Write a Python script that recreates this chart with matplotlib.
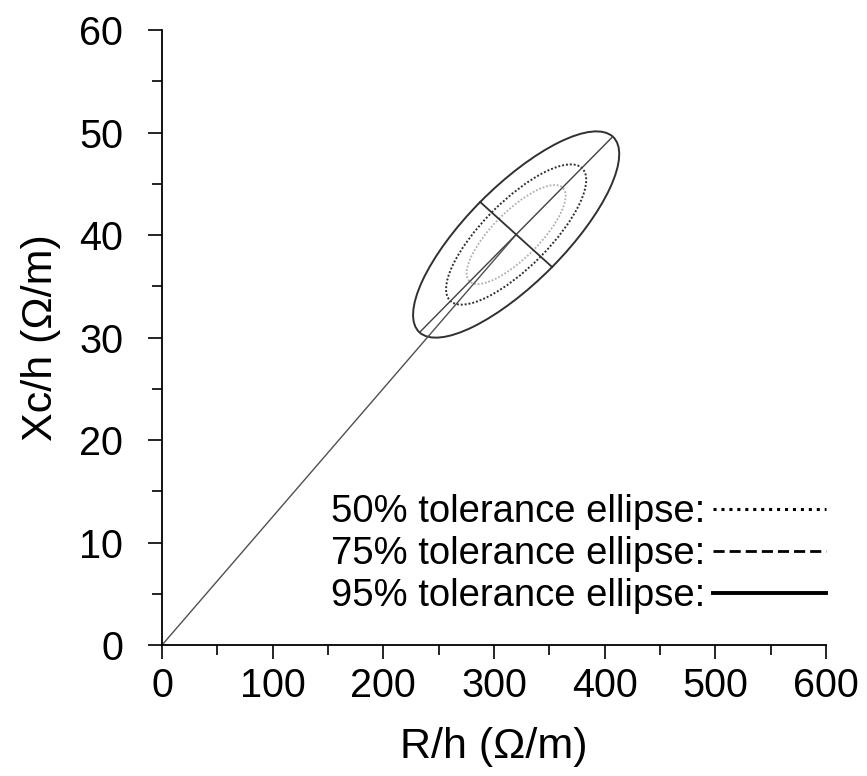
import matplotlib
matplotlib.use("Agg")
import matplotlib.pyplot as plt
from matplotlib.patches import Ellipse
from matplotlib.lines import Line2D
from matplotlib.transforms import Affine2D
import matplotlib.ticker as ticker

plt.rcParams['font.family'] = ['Liberation Sans', 'DejaVu Sans']

# mean vector and 95% semi-axes (conjugate half-diameters) in data units
center = (320.0, 40.05)
major_half = (87.3, 9.55)
minor_half = (32.5, -3.17)

# tolerance levels and their size relative to the 95% ellipse
levels = ['50%', '75%', '95%']
rel_size = [0.48, 0.68, 1.0]
plot_styles = [
    dict(color='#b0b0b0', linestyle=(0, (1, 1)), linewidth=1.3),
    dict(color='#303030', linestyle=(0, (1, 1)), linewidth=1.4),
    dict(color='#303030', linestyle='-', linewidth=1.4),
]
legend_styles = [
    dict(color='black', linestyle=(0, (1, 1.6)), linewidth=2.2),
    dict(color='black', linestyle=(0, (4, 1.8)), linewidth=2.0),
    dict(color='black', linestyle='-', linewidth=2.8),
]

fig = plt.figure(figsize=(8.67, 7.76), dpi=100)
ax = fig.add_axes([0.1869, 0.1688, 0.7658, 0.7925])

# ellipses: unit circle mapped by the conjugate semi-axes
to_data = Affine2D.from_values(major_half[0], major_half[1],
                               minor_half[0], minor_half[1],
                               center[0], center[1]) + ax.transData
for s, st in zip(rel_size, plot_styles):
    e = Ellipse((0, 0), 2 * s, 2 * s, fill=False, transform=to_data, **st)
    ax.add_patch(e)

# line from origin to mean, and ellipse axes
ax.plot([0, center[0]], [0, center[1]], color='#505050', linewidth=1.0)
ax.plot([center[0] - major_half[0], center[0] + major_half[0]],
        [center[1] - major_half[1], center[1] + major_half[1]],
        color='#404040', linewidth=1.0)
ax.plot([center[0] - minor_half[0], center[0] + minor_half[0]],
        [center[1] - minor_half[1], center[1] + minor_half[1]],
        color='#303030', linewidth=1.3)

ax.set_xlim(0, 600)
ax.set_ylim(0, 60)
ax.spines['top'].set_visible(False)
ax.spines['right'].set_visible(False)
for sp in ('left', 'bottom'):
    ax.spines[sp].set_linewidth(1.3)

ax.xaxis.set_major_locator(ticker.MultipleLocator(100))
ax.xaxis.set_minor_locator(ticker.MultipleLocator(50))
ax.yaxis.set_major_locator(ticker.MultipleLocator(10))
ax.yaxis.set_minor_locator(ticker.MultipleLocator(5))
ax.tick_params(which='major', length=10, width=1.2, labelsize=28.5)
ax.tick_params(axis='x', which='major', pad=6)
ax.tick_params(axis='y', which='major', pad=18)
ax.tick_params(which='minor', length=7.5, width=1.2)

ax.set_xlabel('R/h (Ω/m)', fontsize=31, labelpad=16)
ax.set_ylabel('Xc/h (Ω/m)', fontsize=31, labelpad=13)

handles = [Line2D([], [], **st) for st in legend_styles]
labels = [f'{lv} tolerance ellipse:' for lv in levels]
ax.legend(handles, labels, loc='lower right', bbox_to_anchor=(1.0, 0.05),
          frameon=False, fontsize=27.5, markerfirst=False, handlelength=2.95,
          handletextpad=0.2, labelspacing=0.16, borderpad=0, borderaxespad=0)

fig.savefig('out.png', dpi=100)
